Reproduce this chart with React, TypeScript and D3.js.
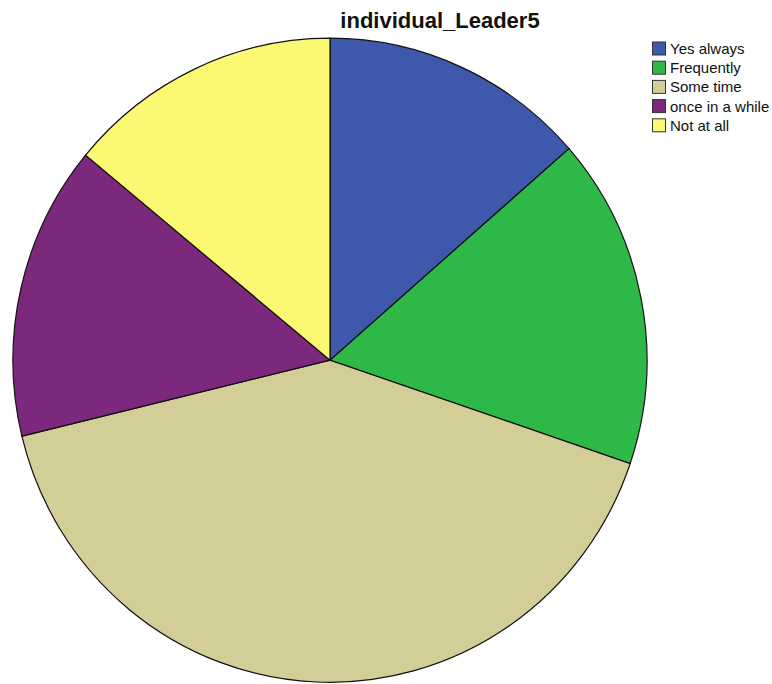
import React from "react";
import * as d3 from "d3";

const categories = ["Yes always", "Frequently", "Some time", "once in a while", "Not at all"];
const percents = [13.6, 16.6, 41.0, 14.8, 14.0];
const colors = ["#3E58AC", "#2EB848", "#D3CE97", "#7C287D", "#FBF873"];
const title = "individual_Leader5";

export default function App() {
  const width = 772;
  const height = 684;
  const cx = 330;
  const cy = 360.2;
  const rx = 317;
  const ry = 322;

  const pie = d3.pie<number>().sort(null).value((d) => d);
  const arcs = pie(percents);
  const arcGen = d3.arc<d3.PieArcDatum<number>>().innerRadius(0).outerRadius(1);

  const legendY = d3.scaleBand<string>().domain(categories).range([40.5, 40.5 + 19.2 * 5]).paddingInner(0);

  return (
    <svg
      width={width}
      height={height}
      style={{ position: "absolute", left: 0, top: 0, background: "#fff" }}
      fontFamily="'Liberation Sans', Arial, sans-serif"
    >
      <rect x={0} y={0} width={width} height={height} fill="#fff" />
      <text x={440} y={28} textAnchor="middle" fontSize={22} fontWeight="bold" fill="#111">
        {title}
      </text>
      <g transform={`translate(${cx},${cy}) scale(${rx},${ry})`}>
        {arcs.map((a, i) => (
          <path
            key={categories[i]}
            d={arcGen(a) || ""}
            fill={colors[i]}
            stroke="#111"
            strokeWidth={1.2}
            vectorEffect="non-scaling-stroke"
          />
        ))}
      </g>
      <g>
        {categories.map((c, i) => {
          const y = legendY(c) as number;
          return (
            <g key={c}>
              <rect x={652.5} y={y + 1.5} width={13} height={13} fill={colors[i]} stroke="#333" strokeWidth={1} />
              <text x={670} y={y + 13.5} fontSize={15} fill="#111">
                {c}
              </text>
            </g>
          );
        })}
      </g>
    </svg>
  );
}
